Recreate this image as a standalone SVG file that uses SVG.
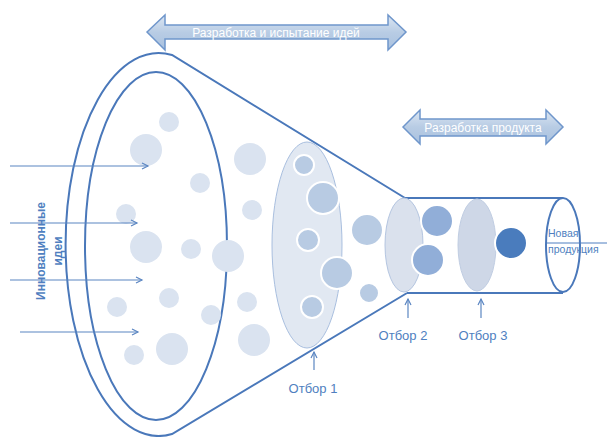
<svg xmlns="http://www.w3.org/2000/svg" width="607" height="437" viewBox="0 0 607 437">
<defs>
<linearGradient id="arrowGrad" x1="0" y1="0" x2="0" y2="1">
<stop offset="0" stop-color="#dbe6f3"/>
<stop offset="0.5" stop-color="#b8cce4"/>
<stop offset="1" stop-color="#a9c1df"/>
</linearGradient>
<marker id="open" markerWidth="10" markerHeight="10" refX="7" refY="4" orient="auto" markerUnits="userSpaceOnUse">
<path d="M1,1 L7,4 L1,7" fill="none" stroke="#5b86c2" stroke-width="1.2"/>
</marker>
</defs>
<style>
.outline{fill:none;stroke:#4a78ba;stroke-width:2}
.light{fill:#dae3f0}
.sel{fill:#b8cbe3;stroke:#ffffff;stroke-width:2}
.mid{fill:#91aed8;stroke:#ffffff;stroke-width:2}
.ptr{stroke:#5b86c2;stroke-width:1.2;fill:none}
.lbl{font-family:"Liberation Sans",Arial,sans-serif;fill:#4f7fc0}
.wt{font-family:"Liberation Sans",Arial,sans-serif;fill:#ffffff;font-size:12px;text-anchor:middle}
.bigarrow{fill:url(#arrowGrad);stroke:#6f96cb;stroke-width:1.5}
</style>
<rect width="607" height="437" fill="#ffffff"/>

<g id="phase-arrows">
<g id="arrow-ideas">
<path class="bigarrow" d="M147,32 L165,15 L165,25 L388,25 L388,15 L406,32 L388,50 L388,39 L165,39 L165,50 Z"/>
<text class="wt" x="276" y="36.5">Разработка и испытание идей</text>
</g>
<g id="arrow-product">
<path class="bigarrow" d="M403,127 L420,110 L420,119 L546,119 L546,110 L563,127 L546,144 L546,136 L420,136 L420,144 Z"/>
<text class="wt" x="483" y="131.5">Разработка продукта</text>
</g>
</g>

<g id="funnel">
<path id="funnel-outer" class="outline" d="M405,198 L172,55 A93,191.5 0 1 0 172,434 L407,293"/>
<ellipse id="funnel-inner" class="outline" cx="156" cy="246" rx="71" ry="174"/>
</g>

<g id="ideas">
<circle class="light" cx="169" cy="122" r="10"/>
<circle class="light" cx="146" cy="150" r="16"/>
<circle class="light" cx="250" cy="159" r="16"/>
<circle class="light" cx="200" cy="183" r="10"/>
<circle class="light" cx="252" cy="210" r="10"/>
<circle class="light" cx="126" cy="214" r="10"/>
<circle class="light" cx="146" cy="247" r="16"/>
<circle class="light" cx="191" cy="249" r="10"/>
<circle class="light" cx="228" cy="256" r="16"/>
<circle class="light" cx="169" cy="298" r="10"/>
<circle class="light" cx="117" cy="307" r="10"/>
<circle class="light" cx="211" cy="315" r="10"/>
<circle class="light" cx="247" cy="302" r="10"/>
<circle class="light" cx="134" cy="355" r="10"/>
<circle class="light" cx="172" cy="349" r="16"/>
<circle class="light" cx="254" cy="340" r="16"/>
</g>

<g id="selection-1">
<ellipse cx="307" cy="245" rx="35" ry="103" fill="#dce4f0" fill-opacity="0.85" stroke="#a9bfdf" stroke-width="1"/>
<circle class="sel" cx="304" cy="165" r="10"/>
<circle class="sel" cx="323" cy="198" r="16"/>
<circle class="sel" cx="308" cy="240" r="11"/>
<circle class="sel" cx="337" cy="273" r="16"/>
<circle class="sel" cx="312" cy="307" r="11"/>
<text class="lbl" x="313" y="393" font-size="13" text-anchor="middle">Отбор 1</text>
</g>

<g id="between-1-2">
<circle class="sel" cx="367" cy="230" r="16"/>
<circle class="sel" cx="369" cy="293" r="10"/>
</g>

<g id="tube">
<line class="outline" x1="405" y1="198" x2="563" y2="198"/>
<line class="outline" x1="407" y1="293" x2="563" y2="293"/>
<ellipse class="outline" cx="563" cy="245" rx="17" ry="47"/>
</g>

<g id="selection-2">
<ellipse cx="404" cy="245" rx="19" ry="47" fill="#d3dcea" fill-opacity="0.85" stroke="#b4c5e0" stroke-width="1"/>
<circle class="mid" cx="437" cy="221" r="16"/>
<circle class="mid" cx="428" cy="260" r="16"/>
<text class="lbl" x="403" y="340" font-size="13" text-anchor="middle">Отбор 2</text>
</g>

<g id="selection-3">
<ellipse cx="477" cy="245" rx="19" ry="46" fill="#c9d3e4" fill-opacity="0.9" stroke="#c0cde2" stroke-width="1"/>
<text class="lbl" x="483" y="340" font-size="13" text-anchor="middle">Отбор 3</text>
</g>

<g id="product">
<circle cx="511" cy="243" r="16" fill="#4a7cbd" stroke="#ffffff" stroke-width="2"/>
<text class="lbl" x="548" y="237" font-size="10.5">Новая</text>
<line x1="547" y1="243" x2="607" y2="243" stroke="#4f7fc0" stroke-width="1"/>
<text class="lbl" x="548" y="253" font-size="10.5">продукция</text>
</g>

<g id="input-label">
<text class="lbl" font-size="12" font-weight="bold" text-anchor="middle" transform="translate(45,251) rotate(-90)">Инновационные</text>
<text class="lbl" font-size="12" font-weight="bold" text-anchor="middle" transform="translate(62,251) rotate(-90)">идеи</text>
</g>

<g id="connectors">
<line class="ptr" x1="10" y1="166" x2="148" y2="166" marker-end="url(#open)"/>
<line class="ptr" x1="10" y1="223" x2="137" y2="223" marker-end="url(#open)"/>
<line class="ptr" x1="10" y1="280" x2="142" y2="280" marker-end="url(#open)"/>
<line class="ptr" x1="20" y1="332" x2="138" y2="332" marker-end="url(#open)"/>
<line class="ptr" x1="314" y1="370" x2="314" y2="352" marker-end="url(#open)"/>
<line class="ptr" x1="408" y1="318" x2="408" y2="299" marker-end="url(#open)"/>
<line class="ptr" x1="481" y1="318" x2="481" y2="299" marker-end="url(#open)"/>
</g>
</svg>
